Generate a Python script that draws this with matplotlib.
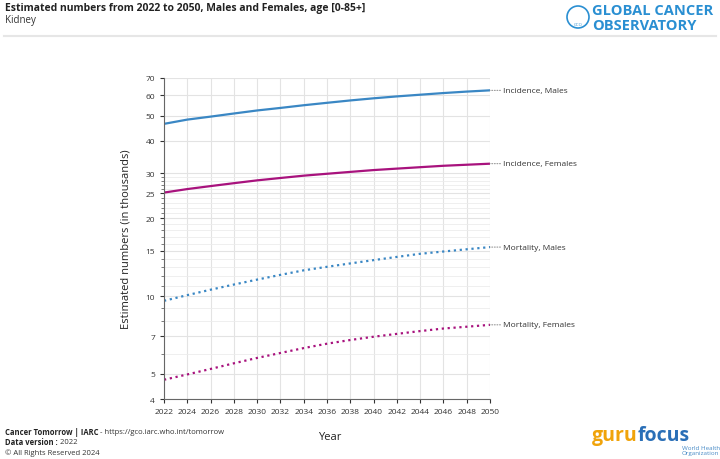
import matplotlib
matplotlib.use("Agg")
import matplotlib.pyplot as plt
from matplotlib.ticker import FixedLocator, FixedFormatter, NullFormatter
import numpy as np

plt.rcParams['font.family'] = ['Open Sans', 'DejaVu Sans']

years = list(range(2022, 2051, 2))
inc_males = [46.5, 48.3, 49.6, 51.0, 52.4, 53.6, 54.9, 56.1, 57.3, 58.4, 59.4, 60.3, 61.2, 62.0, 62.7]
inc_females = [25.2, 26.0, 26.7, 27.4, 28.1, 28.7, 29.3, 29.8, 30.3, 30.8, 31.2, 31.6, 32.0, 32.3, 32.6]
mort_males = [9.6, 10.1, 10.6, 11.1, 11.6, 12.1, 12.6, 13.0, 13.4, 13.8, 14.2, 14.6, 14.9, 15.2, 15.5]
mort_females = [4.75, 4.98, 5.23, 5.5, 5.77, 6.03, 6.3, 6.55, 6.77, 6.97, 7.15, 7.33, 7.5, 7.62, 7.75]

y_ticks = [4, 5, 7, 10, 15, 20, 25, 30, 40, 50, 60, 70]
y_minor = [6, 8, 9, 11, 12, 13, 14, 16, 17, 18, 19, 21, 22, 23, 24, 26, 27, 28, 29]

blue = '#3a87c4'
magenta = '#a8127d'

series = [
    (inc_males, blue, '-', 'Incidence, Males'),
    (inc_females, magenta, '-', 'Incidence, Females'),
    (mort_males, blue, ':', 'Mortality, Males'),
    (mort_females, magenta, ':', 'Mortality, Females'),
]

fig = plt.figure(figsize=(7.2, 4.6), dpi=100)
ax = fig.add_axes([0.2278, 0.1304, 0.4528, 0.6979])

for vals, col, ls, name in series:
    ax.plot(years, vals, color=col, linestyle=ls, linewidth=1.6)
    ax.annotate(name, xy=(years[-1], vals[-1]), xytext=(9.5, 0), textcoords='offset points',
                fontsize=6, color='#333333', va='center', ha='left',
                arrowprops=dict(arrowstyle='-', linestyle=':', color='#888888', lw=0.7,
                                shrinkA=0, shrinkB=0))

ax.set_yscale('log')
ax.set_ylim(4, 70)
ax.set_xlim(2022, 2050)
ax.yaxis.set_major_locator(FixedLocator(y_ticks))
ax.yaxis.set_major_formatter(FixedFormatter([str(t) for t in y_ticks]))
ax.yaxis.set_minor_locator(FixedLocator(y_minor))
ax.yaxis.set_minor_formatter(NullFormatter())
ax.set_xticks(years)
ax.tick_params(axis='both', labelsize=6, colors='#333333', length=3, width=0.8)
ax.tick_params(axis='y', which='minor', length=2, width=0.6, colors='#666666')
ax.grid(True, which='major', color='#e3e3e3', linewidth=0.8)
ax.grid(True, which='minor', axis='y', color='#ececec', linewidth=0.6)
ax.set_axisbelow(True)
for s in ['top', 'right']:
    ax.spines[s].set_visible(False)
for s in ['left', 'bottom']:
    ax.spines[s].set_color('#666666')
    ax.spines[s].set_linewidth(0.8)

ax.set_ylabel('Estimated numbers (in thousands)', fontsize=8, color='#222222', labelpad=10)
fig.text(330 / 720, 1 - 438 / 460, 'Year', fontsize=8, color='#222222', ha='center', va='center')

# header
fig.text(5 / 720, 1 - 9 / 460, 'Estimated numbers from 2022 to 2050, Males and Females, age [0-85+]',
         fontsize=7.5, fontweight='bold', color='#222222', va='center')
fig.text(5 / 720, 1 - 21 / 460, 'Kidney', fontsize=7, color='#333333', va='center')
fig.add_artist(plt.Line2D([0.005, 0.995], [1 - 37 / 460, 1 - 37 / 460], color='#e6e6e6', lw=1.5))
fig.text(592 / 720, 1 - 11 / 460, 'GLOBAL CANCER', fontsize=10.5, fontweight='bold', color='#2a8fd2', va='center')
fig.text(592 / 720, 1 - 26 / 460, 'OBSERVATORY', fontsize=10.5, fontweight='bold', color='#2a8fd2', va='center')
fig.add_artist(matplotlib.patches.Ellipse((578 / 720, 1 - 18 / 460), 22 / 720, 22 / 460,
                                          transform=fig.transFigure, fill=False, ec='#2a8fd2', lw=1.2))
fig.text(578 / 720, 1 - 25 / 460, 'GCO', fontsize=3, color='#2a8fd2', ha='center', va='center')

# footer
t1 = fig.text(5 / 720, 1 - 433 / 460, 'Cancer Tomorrow | IARC', fontsize=5.5, fontweight='bold',
              color='#222222', va='center')
ax.annotate(' - https://gco.iarc.who.int/tomorrow', xy=(1, 0.5), xycoords=t1, fontsize=5.5,
            color='#333333', va='center', ha='left', annotation_clip=False)
t2 = fig.text(5 / 720, 1 - 443 / 460, 'Data version :', fontsize=5.5, fontweight='bold',
              color='#222222', va='center')
ax.annotate(' 2022', xy=(1, 0.5), xycoords=t2, fontsize=5.5, color='#333333', va='center',
            ha='left', annotation_clip=False)
fig.text(5 / 720, 1 - 453 / 460, '\u00a9 All Rights Reserved 2024', fontsize=5.5, color='#333333', va='center')
g1 = fig.text(592 / 720, 1 - 436 / 460, 'guru', fontsize=14, fontweight='bold', color='#f0a30a',
              va='center', ha='left')
ax.annotate('focus', xy=(1, 0.5), xycoords=g1, fontsize=14, fontweight='bold', color='#2a6fb7',
            va='center', ha='left', annotation_clip=False)
fig.text(682 / 720, 1 - 451 / 460, 'World Health\nOrganization', fontsize=4.5, color='#4a8cc7',
         va='center', ha='left')

fig.savefig('out.png', dpi=100)
